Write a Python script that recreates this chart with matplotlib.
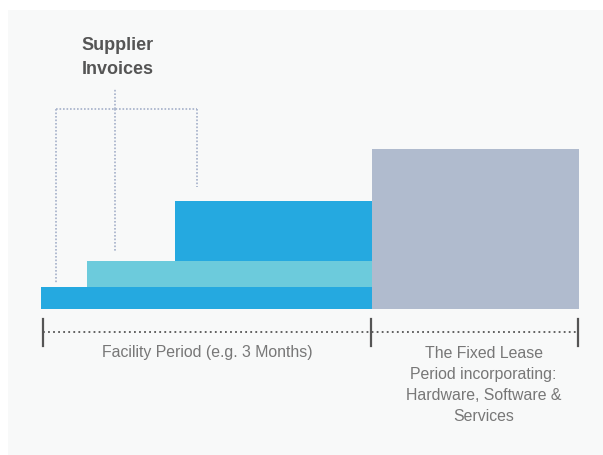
import matplotlib.pyplot as plt
from matplotlib.patches import Rectangle

# time axis in months, heights in arbitrary units
stage_names = ['Invoice 1', 'Invoice 2', 'Invoice 3', 'Fixed Lease']
stage_start = [-0.02, 0.40, 1.21, 3.01]
stage_end = [3.01, 3.01, 3.01, 4.90]
stage_bottom = [0.0, 2.15, 4.75, 0.0]
stage_top = [2.15, 4.75, 10.75, 15.95]
stage_colors = ['#25a9e0', '#6ccbdc', '#25a9e0', '#b0bbce']

# supplier invoice markers (x of drop line, lowest point of drop)
invoice_x = [0.12, 0.66, 1.41]
invoice_drop_end = [2.55, 5.65, 12.15]
bracket_y = 19.95
bracket_top = 22.05

period_ticks = [0.0, 3.0, 4.89]
facility_label = 'Facility Period (e.g. 3 Months)'
lease_label = 'The Fixed Lease\nPeriod incorporating:\nHardware, Software &\nServices'

plt.rcParams['font.family'] = ['Liberation Sans', 'DejaVu Sans']

fig = plt.figure(figsize=(6.03, 4.55), dpi=100)
fig.patch.set_facecolor('white')
ax = fig.add_axes([0, 0, 1, 1])
# pixel mapping: x_px = 43 + 109.33*x ; y_px = 308.5 - 10*y
ax.set_xlim(-43 / 109.33, (603 - 43) / 109.33)
ax.set_ylim(-(455 - 308.5) / 10, 308.5 / 10)
ax.axis('off')

# light panel
ax.add_patch(Rectangle((-35 / 109.33, -20), 10, (308.5 - 10) / 10 + 20,
                       facecolor='#f8f9f9', edgecolor='none', zorder=0))

for s, e, b, t, c in zip(stage_start, stage_end, stage_bottom, stage_top, stage_colors):
    ax.add_patch(Rectangle((s, b), e - s, t - b, facecolor=c,
                           edgecolor='none', zorder=2))

# bracket
dot_col = '#a5b0ca'
dots = (0, (1, 1.1))
ax.plot([invoice_x[0], invoice_x[-1]], [bracket_y, bracket_y], color=dot_col,
        lw=1.2, linestyle=dots, zorder=3)
for x, y0 in zip(invoice_x, invoice_drop_end):
    ax.plot([x, x], [bracket_y, y0], color=dot_col, lw=1.2,
            linestyle=dots, zorder=3)
ax.plot([invoice_x[1], invoice_x[1]], [bracket_y, bracket_top], color=dot_col,
        lw=1.2, linestyle=dots, zorder=3)

ax.text(0.686, 25.1, 'Supplier\nInvoices', ha='center', va='center',
        fontsize=13, fontweight='bold', color='#555555', linespacing=1.5)

# period axis
ax.plot([period_ticks[0], period_ticks[-1]], [-2.35, -2.35], color='#555555',
        lw=1.3, linestyle=(0, (1, 1.8)), zorder=3)
for x in period_ticks:
    ax.plot([x, x], [-1.05, -3.75], color='#555555', lw=1.6, zorder=4)

ax.text(1.5, -4.35, facility_label, ha='center', va='center',
        fontsize=11.4, color='#777777')
ax.text(4.03, -3.7, lease_label, ha='center', va='top',
        fontsize=11.4, color='#777777', linespacing=1.52)

fig.savefig('out.png', dpi=100)
